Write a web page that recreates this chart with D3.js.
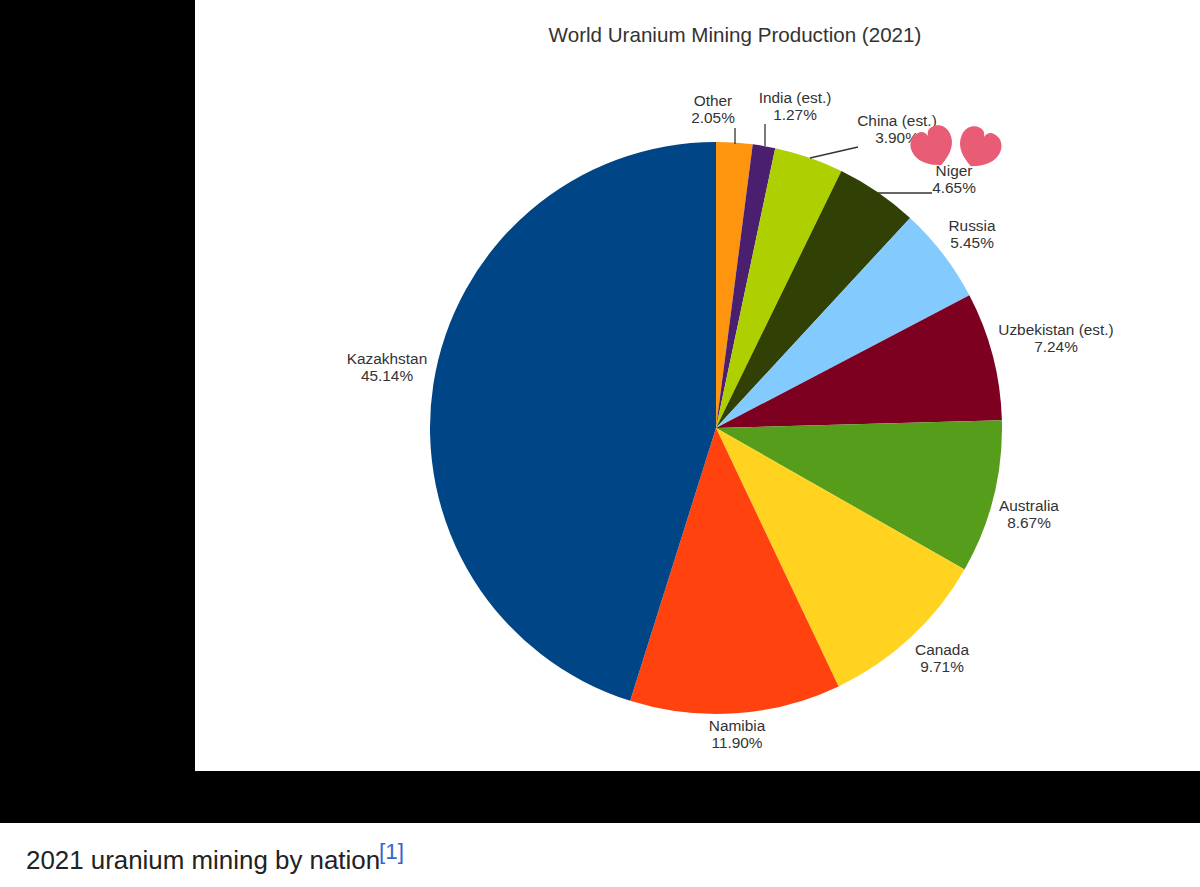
<!DOCTYPE html>
<html>
<head>
<meta charset="utf-8">
<script src="https://cdn.jsdelivr.net/npm/d3@7"></script>
<style>
  html, body { margin: 0; padding: 0; background: #fff; }
  svg { display: block; }
  text { font-family: "Liberation Sans", Arial, sans-serif; }
</style>
</head>
<body>
<svg></svg>
<script>
const countries = ['Other', 'India (est.)', 'China (est.)', 'Niger', 'Russia', 'Uzbekistan (est.)', 'Australia', 'Canada', 'Namibia', 'Kazakhstan'];
const shares = [2.05, 1.27, 3.90, 4.65, 5.45, 7.24, 8.67, 9.71, 11.90, 45.14];
const colors = ['#ff950e', '#4b1f6f', '#aecf00', '#314004', '#83caff', '#7e0021', '#579d1c', '#ffd320', '#ff420e', '#004586'];

// label centre positions, not part of the data
const labelPos = [[713, 109], [795, 106], [897, 129], [954, 179], [972, 234], [1056, 338], [1029, 514], [942, 658], [737, 734], [387, 367]];
const leaders = [[[735, 128], [735, 144]], [[765, 124], [765, 146]], [[858, 147], [810, 158]], [[932, 193], [878, 193]]];
const hearts = [[933, 147, -24], [979, 148, 24]];

const width = 1200;
const height = 887;
const cx = 716;
const cy = 428;
const radius = 286;

const svg = d3.select('svg')
  .attr('width', width)
  .attr('height', height);

// black frame around the chart image
svg.append('rect').attr('x', 0).attr('y', 0).attr('width', width).attr('height', 823).attr('fill', '#000');
svg.append('rect').attr('x', 195).attr('y', 0).attr('width', width - 195).attr('height', 771).attr('fill', '#fff');

svg.append('text')
  .attr('x', 735)
  .attr('y', 42)
  .attr('text-anchor', 'middle')
  .attr('font-size', 20.6)
  .attr('fill', '#333')
  .text('World Uranium Mining Production (2021)');

const pie = d3.pie().value(d => d).sort(null);
const arc = d3.arc().innerRadius(0).outerRadius(radius);

svg.append('g')
  .attr('transform', `translate(${cx},${cy})`)
  .selectAll('path')
  .data(pie(shares))
  .enter().append('path')
  .attr('d', arc)
  .attr('fill', (d, i) => colors[i]);

svg.append('g')
  .selectAll('line')
  .data(leaders)
  .enter().append('line')
  .attr('x1', d => d[0][0])
  .attr('y1', d => d[0][1])
  .attr('x2', d => d[1][0])
  .attr('y2', d => d[1][1])
  .attr('stroke', '#333')
  .attr('stroke-width', 1.3);

const labels = svg.append('g')
  .selectAll('text')
  .data(countries)
  .enter().append('text')
  .attr('text-anchor', 'middle')
  .attr('font-size', 15.4)
  .attr('fill', '#333');

labels.append('tspan')
  .attr('x', (d, i) => labelPos[i][0])
  .attr('y', (d, i) => labelPos[i][1] - 3)
  .text(d => d);

labels.append('tspan')
  .attr('x', (d, i) => labelPos[i][0])
  .attr('y', (d, i) => labelPos[i][1] + 14)
  .text((d, i) => shares[i].toFixed(2) + '%');

// the two stickers on top of the chart
const heartPath = 'M0,20 C-8,16 -21,9 -21,-5 C-21,-14 -14,-19 -8,-19 C-4,-19 -1,-17 0,-12 C1,-17 4,-19 8,-19 C14,-19 21,-14 21,-5 C21,9 8,16 0,20 Z';
svg.append('g')
  .selectAll('path')
  .data(hearts)
  .enter().append('path')
  .attr('d', heartPath)
  .attr('transform', d => `translate(${d[0]},${d[1]}) rotate(${d[2]})`)
  .attr('fill', '#e85d75');

svg.append('text')
  .attr('x', 26)
  .attr('y', 869)
  .attr('font-size', 25.9)
  .attr('fill', '#222')
  .text('2021 uranium mining by nation');

svg.append('text')
  .attr('x', 379)
  .attr('y', 859)
  .attr('font-size', 22.5)
  .attr('fill', '#3366cc')
  .text('[1]');
</script>
</body>
</html>
